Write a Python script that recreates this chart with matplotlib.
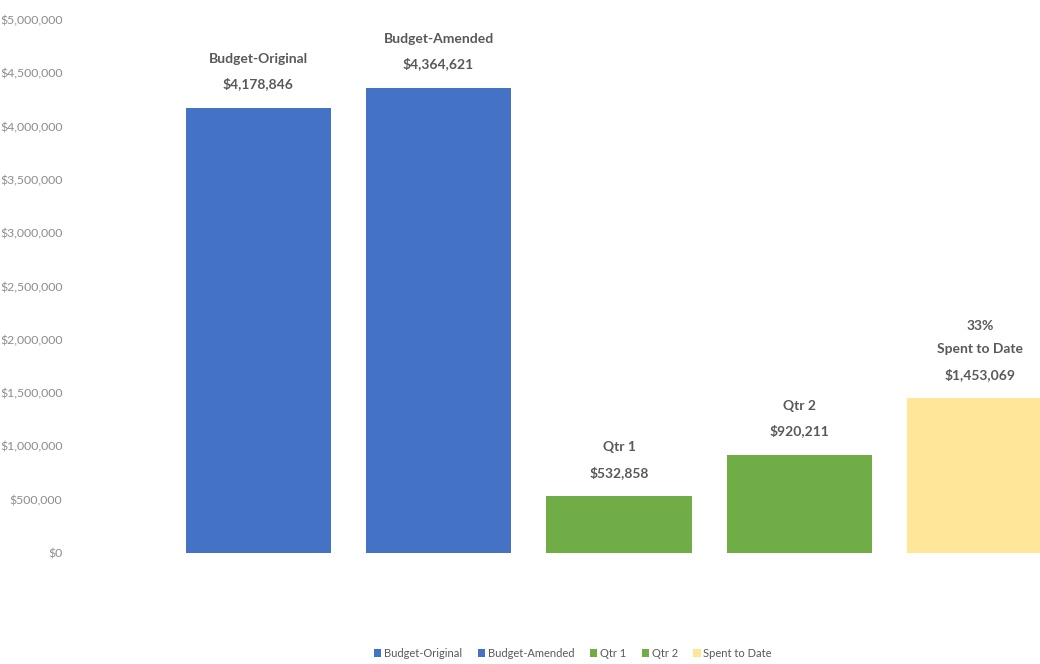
import matplotlib
matplotlib.use("Agg")
import matplotlib.pyplot as plt
from matplotlib.ticker import FuncFormatter, MultipleLocator

categories = ["Budget-Original", "Budget-Amended", "Qtr 1", "Qtr 2", "Spent to Date"]
values = [4178846, 4364621, 532858, 920211, 1453069]
label_heads = ["Budget-Original", "Budget-Amended", "Qtr 1", "Qtr 2", "33%\nSpent to Date"]
colors = ["#4472C4", "#4472C4", "#70AD47", "#70AD47", "#FFE699"]

plt.rcParams["font.family"] = ["Lato", "DejaVu Sans"]

fig = plt.figure(figsize=(10.4, 6.64), dpi=100)
ax = fig.add_axes([0.1615, 0.1672, 0.8673, 0.8027])

x = list(range(len(categories)))
ax.bar(x, values, width=0.805, color=colors, label=categories)

ax.set_xlim(-0.5, len(categories) - 0.5)
ax.set_ylim(0, 5000000)
ax.yaxis.set_major_locator(MultipleLocator(500000))
ax.yaxis.set_major_formatter(FuncFormatter(lambda v, p: f"${v:,.0f}"))
ax.tick_params(axis="y", length=0, pad=76, labelsize=8.8, labelcolor="#8C8C8C")
ax.tick_params(axis="x", length=0, labelbottom=False)
for s in ax.spines.values():
    s.set_visible(False)

for xi, v, head in zip(x, values, label_heads):
    ax.annotate(f"{head}\n${v:,.0f}", (xi, v), xytext=(0, 12.5), textcoords="offset points",
                ha="center", va="bottom", fontsize=10, fontweight="bold",
                color="#595959", linespacing=2.15)

fig.legend(loc="center", bbox_to_anchor=(0.551, 0.016), ncol=5, frameon=False,
           fontsize=8, labelcolor="#595959", handlelength=0.65, handleheight=0.65,
           handletextpad=0.25, columnspacing=1.4)

fig.savefig("out.png", dpi=100)
